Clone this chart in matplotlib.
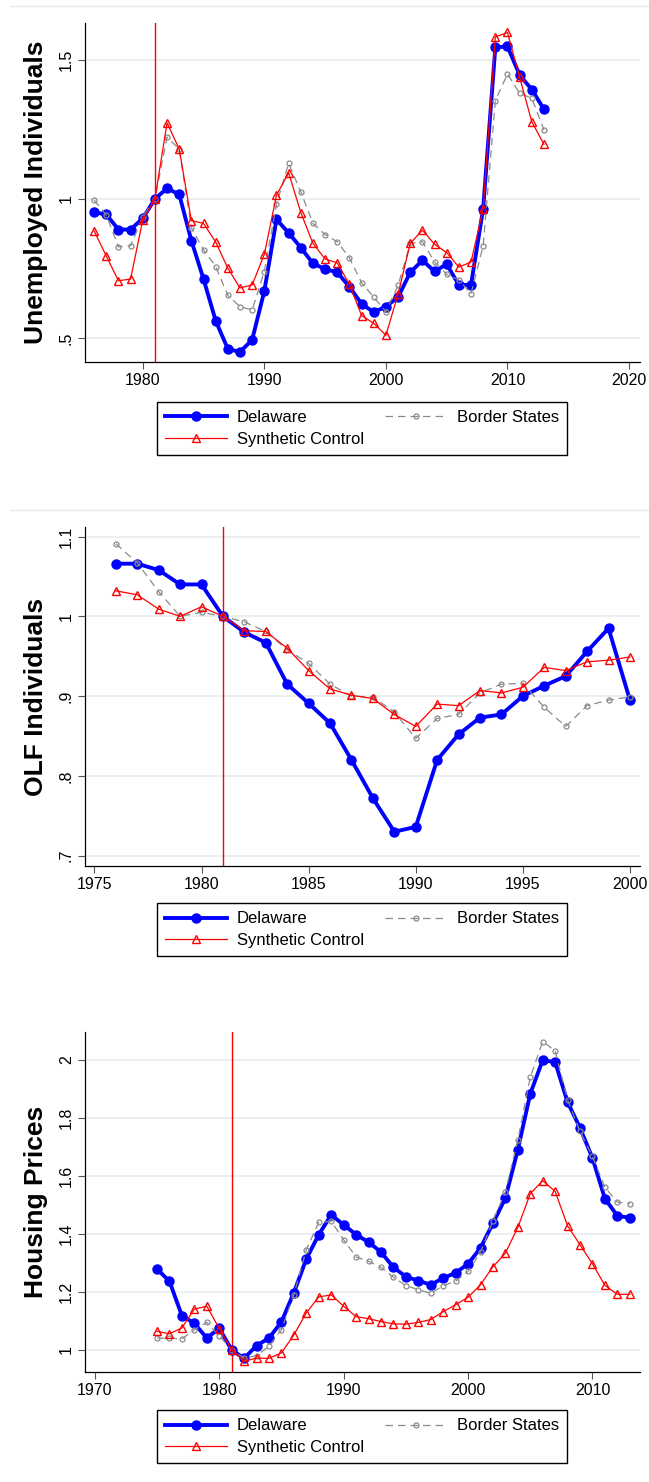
import matplotlib.pyplot as plt

plt.rcParams["font.family"] = ["Liberation Sans", "DejaVu Sans"]

W, H = 649, 1482

# --- unemployed individuals (index, 1981 = 1)
years_unemp = list(range(1976, 2014))
unemp_delaware = [0.952, 0.944, 0.890, 0.890, 0.930, 1.000, 1.038, 1.016, 0.850, 0.712,
                  0.562, 0.461, 0.450, 0.494, 0.669, 0.926, 0.878, 0.825, 0.768, 0.748,
                  0.736, 0.684, 0.623, 0.593, 0.613, 0.647, 0.736, 0.779, 0.740, 0.765,
                  0.691, 0.691, 0.965, 1.544, 1.548, 1.445, 1.393, 1.322]
unemp_border = [0.996, 0.942, 0.828, 0.832, 0.936, 1.000, 1.222, 1.179, 0.896, 0.817,
                0.757, 0.653, 0.613, 0.601, 0.739, 0.981, 1.128, 1.025, 0.912, 0.872,
                0.846, 0.788, 0.699, 0.647, 0.595, 0.689, 0.840, 0.846, 0.774, 0.729,
                0.709, 0.659, 0.832, 1.353, 1.449, 1.379, 1.362, 1.248]
unemp_synth = [0.885, 0.795, 0.706, 0.712, 0.924, 1.000, 1.273, 1.179, 0.922, 0.912,
               0.845, 0.751, 0.680, 0.691, 0.801, 1.013, 1.094, 0.951, 0.840, 0.784,
               0.770, 0.693, 0.581, 0.553, 0.510, 0.658, 0.840, 0.888, 0.837, 0.807,
               0.755, 0.773, 0.965, 1.582, 1.598, 1.437, 1.277, 1.196]

# --- out of labor force individuals
years_olf = list(range(1976, 2001))
olf_delaware = [1.066, 1.066, 1.058, 1.040, 1.040, 1.000, 0.980, 0.967, 0.915, 0.891,
                0.866, 0.820, 0.772, 0.730, 0.736, 0.820, 0.852, 0.873, 0.877, 0.900,
                0.913, 0.925, 0.956, 0.985, 0.895]
olf_border = [1.091, 1.067, 1.031, 1.000, 1.005, 1.000, 0.993, 0.981, 0.958, 0.941,
              0.915, 0.900, 0.899, 0.880, 0.847, 0.872, 0.877, 0.904, 0.915, 0.916,
              0.886, 0.862, 0.888, 0.895, 0.899]
olf_synth = [1.032, 1.027, 1.009, 1.000, 1.012, 1.000, 0.982, 0.981, 0.960, 0.932,
             0.909, 0.901, 0.897, 0.877, 0.862, 0.890, 0.888, 0.907, 0.904, 0.911,
             0.936, 0.932, 0.943, 0.945, 0.949]

# --- housing prices
years_house = list(range(1975, 2014))
house_delaware = [1.279, 1.237, 1.118, 1.092, 1.041, 1.075, 1.000, 0.971, 1.015, 1.041,
                  1.097, 1.198, 1.314, 1.398, 1.466, 1.432, 1.398, 1.372, 1.338, 1.285,
                  1.253, 1.239, 1.225, 1.248, 1.266, 1.297, 1.352, 1.437, 1.524, 1.691,
                  1.884, 2.000, 1.993, 1.855, 1.766, 1.662, 1.522, 1.463, 1.456]
house_border = [1.041, 1.041, 1.038, 1.070, 1.095, 1.049, 1.000, 0.972, 0.980, 1.013,
                1.070, 1.191, 1.346, 1.440, 1.444, 1.380, 1.321, 1.306, 1.285, 1.251,
                1.222, 1.208, 1.195, 1.222, 1.237, 1.271, 1.337, 1.446, 1.545, 1.725,
                1.941, 2.064, 2.032, 1.863, 1.754, 1.668, 1.561, 1.510, 1.505]
house_synth = [1.064, 1.056, 1.076, 1.141, 1.151, 1.074, 1.000, 0.961, 0.972, 0.971,
               0.990, 1.052, 1.128, 1.183, 1.190, 1.151, 1.115, 1.108, 1.098, 1.090,
               1.089, 1.095, 1.105, 1.132, 1.156, 1.182, 1.225, 1.287, 1.334, 1.423,
               1.539, 1.584, 1.547, 1.428, 1.363, 1.297, 1.223, 1.192, 1.192]

treat_year = 1981
labels = ["Delaware", "Border States", "Synthetic Control"]

grid_color = "#e6eef0"


def panel(fig, top, bottom, years, de, border, synth, xlim, xticks, ylim, yticks,
          yticklabels, ylabel, legend_top):
    ax = fig.add_axes([85 / W, 1 - bottom / H, 555 / W, (bottom - top) / H])
    ax.axvline(treat_year, color="red", lw=1.0, zorder=1)
    l1, = ax.plot(years, de, color="blue", lw=2.8, marker="o", ms=6.5, zorder=3)
    l2, = ax.plot(years, border, color="#8a8a8a", lw=0.9, dashes=(6, 4), marker="o",
                  ms=3.6, mfc="none", mew=0.9, zorder=4)
    l3, = ax.plot(years, synth, color="red", lw=0.9, marker="^", ms=5.5, mfc="none",
                  mew=1.0, zorder=5)
    ax.set_xlim(*xlim)
    ax.set_ylim(*ylim)
    ax.set_xticks(xticks)
    ax.set_yticks(yticks)
    ax.set_yticklabels(yticklabels, rotation=90, va="center")
    ax.tick_params(labelsize=11.5, length=5, width=0.8, color="#555555", pad=3)
    ax.grid(axis="y", color=grid_color, lw=1.2, zorder=0)
    ax.set_axisbelow(True)
    for s in ["top", "right"]:
        ax.spines[s].set_visible(False)
    ax.spines["left"].set_linewidth(0.9)
    ax.spines["bottom"].set_linewidth(0.9)
    ax.set_ylabel(ylabel, fontsize=19, fontweight="bold")
    ax.yaxis.set_label_coords(-0.067, 0.5)

    leg = fig.legend([l1, l3, l2], [labels[0], labels[2], labels[1]], ncol=2, mode="expand",
                     loc="upper left", bbox_to_anchor=(157 / W, 1 - legend_top / H, 410 / W, 0),
                     fontsize=12, handlelength=3.7, handletextpad=0.6, borderpad=0.5,
                     labelspacing=0.4, borderaxespad=0, fancybox=False, edgecolor="black",
                     framealpha=1)
    leg.get_frame().set_linewidth(1.0)
    return ax


fig = plt.figure(figsize=(W / 100, H / 100), dpi=100)

panel(fig, 23, 362, years_unemp, unemp_delaware, unemp_border, unemp_synth,
      (1975.25, 2020.9), [1980, 1990, 2000, 2010, 2020], (0.414, 1.632),
      [0.5, 1, 1.5], [".5", "1", "1.5"], "Unemployed Individuals", 402)

panel(fig, 527, 866, years_olf, olf_delaware, olf_border, olf_synth,
      (1974.56, 2000.47), [1975, 1980, 1985, 1990, 1995, 2000], (0.687, 1.112),
      [0.7, 0.8, 0.9, 1, 1.1], [".7", ".8", ".9", "1", "1.1"], "OLF Individuals", 903)

panel(fig, 1032, 1372, years_house, house_delaware, house_border, house_synth,
      (1969.21, 2013.82), [1970, 1980, 1990, 2000, 2010], (0.924, 2.097),
      [1, 1.2, 1.4, 1.6, 1.8, 2], ["1", "1.2", "1.4", "1.6", "1.8", "2"],
      "Housing Prices", 1410)

# thin separators above the first two graphs
for y in (6, 510):
    fig.add_artist(plt.Line2D([10 / W, 1], [1 - y / H, 1 - y / H], color="#e3eaec", lw=1.0))

fig.savefig("out.png", dpi=100, facecolor="white")
